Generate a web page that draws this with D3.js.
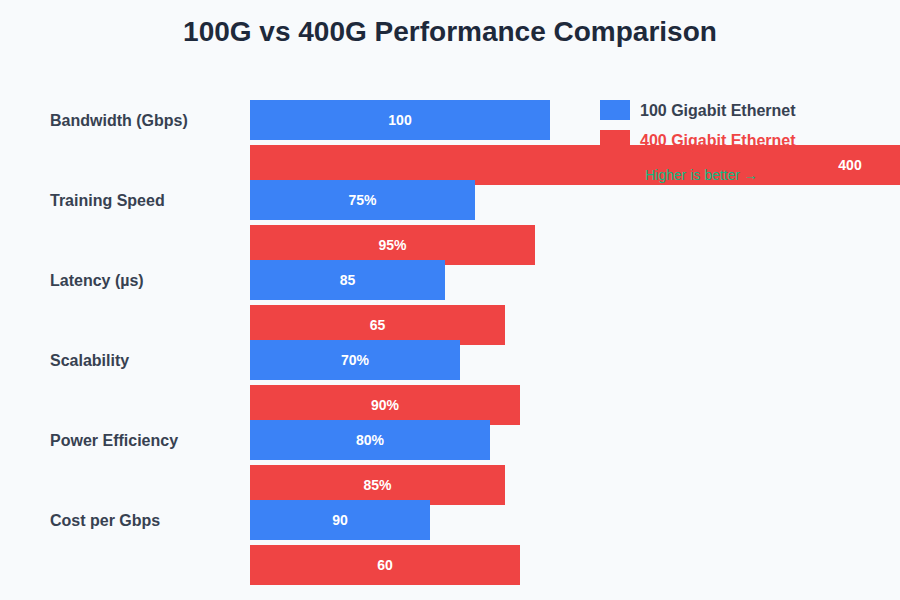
<!DOCTYPE html>
<html>
<head>
<meta charset="utf-8">
<script src="https://cdn.jsdelivr.net/npm/d3@7"></script>
<style>
  body { margin: 0; background: #f8fafc; }
  svg { display: block; font-family: "Liberation Sans", Arial, sans-serif; }
</style>
</head>
<body>
<div class="chart"></div>
<script>
// data
var categories = ["Bandwidth (Gbps)", "Training Speed", "Latency (\u00b5s)", "Scalability", "Power Efficiency", "Cost per Gbps"];
var values100 = [100, 75, 85, 70, 80, 90];
var values400 = [400, 95, 65, 90, 85, 60];
var units = ["", "%", "", "%", "%", ""];
var lowerIsBetter = [false, false, true, false, false, true];
var seriesNames = ["100 Gigabit Ethernet", "400 Gigabit Ethernet"];

var width = 900, height = 600;
var colors = ["#3b82f6", "#ef4444"];

var svg = d3.select(".chart").append("svg")
  .attr("width", width)
  .attr("height", height);

svg.append("rect").attr("width", width).attr("height", height).attr("fill", "#f8fafc");

svg.append("text")
  .attr("x", width / 2)
  .attr("y", 41)
  .attr("text-anchor", "middle")
  .attr("font-size", 28)
  .attr("font-weight", "bold")
  .attr("fill", "#1e293b")
  .text("100G vs 400G Performance Comparison");

var y = d3.scaleBand().domain(categories).range([100, 580]);
var x = d3.scaleLinear().domain([0, 100]).range([0, 300]);
var x0 = 250;

// lower-is-better metrics are drawn against a 150 ceiling
var score = function(v, i) { return lowerIsBetter[i] ? 150 - v : v; };

// legend (drawn under the bars)
var legend = svg.append("g");
seriesNames.forEach(function(name, k) {
  legend.append("rect")
    .attr("x", 600).attr("y", 100 + k * 30)
    .attr("width", 30).attr("height", 20)
    .attr("fill", colors[k]);
  legend.append("text")
    .attr("x", 640).attr("y", 110 + k * 30)
    .attr("dy", "0.35em")
    .attr("font-size", 16)
    .attr("font-weight", "bold")
    .attr("fill", k === 0 ? "#374151" : colors[1])
    .text(name);
});

// category labels
svg.selectAll("text.cat")
  .data(categories)
  .enter().append("text")
    .attr("class", "cat")
    .attr("x", 50)
    .attr("y", function(d) { return y(d) + 20; })
    .attr("dy", "0.35em")
    .attr("font-size", 16)
    .attr("font-weight", "bold")
    .attr("fill", "#374151")
    .text(function(d) { return d; });

var rows = categories.map(function(c, i) {
  return [
    { cat: c, i: i, s: 0, v: values100[i] },
    { cat: c, i: i, s: 1, v: values400[i] }
  ];
});
var bars = d3.merge(rows);

var barG = svg.selectAll("g.bar")
  .data(bars)
  .enter().append("g")
    .attr("class", "bar");

barG.append("rect")
  .attr("x", x0)
  .attr("y", function(d) { return y(d.cat) + d.s * 45; })
  .attr("width", function(d) { return x(score(d.v, d.i)); })
  .attr("height", 40)
  .attr("fill", function(d) { return colors[d.s]; });

barG.append("text")
  .attr("x", function(d) { return x0 + x(score(d.v, d.i)) / 2; })
  .attr("y", function(d) { return y(d.cat) + d.s * 45 + 20; })
  .attr("dy", "0.35em")
  .attr("text-anchor", "middle")
  .attr("font-size", 14)
  .attr("font-weight", "bold")
  .attr("fill", "#ffffff")
  .text(function(d) { return d.v + units[d.i]; });

svg.append("text")
  .attr("x", 645)
  .attr("y", 175)
  .attr("dy", "0.35em")
  .attr("font-size", 14)
  .attr("fill", "#10b981")
  .text("Higher is better \u2192");
</script>
</body>
</html>
